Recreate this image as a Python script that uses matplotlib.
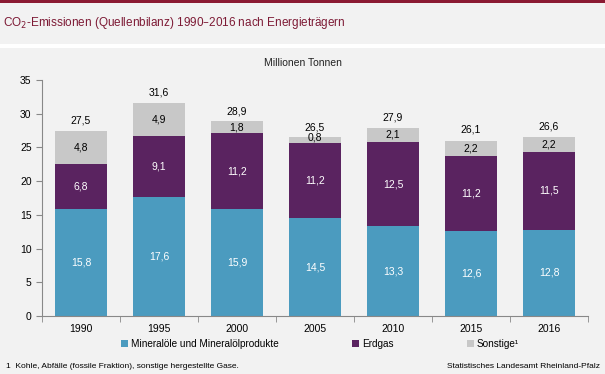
import matplotlib.pyplot as plt
import numpy as np

years = ['1990', '1995', '2000', '2005', '2010', '2015', '2016']
mineraloel = [15.8, 17.6, 15.9, 14.5, 13.3, 12.6, 12.8]
erdgas = [6.8, 9.1, 11.2, 11.2, 12.5, 11.2, 11.5]
sonstige = [4.8, 4.9, 1.8, 0.8, 2.1, 2.2, 2.2]
totals = [27.5, 31.6, 28.9, 26.5, 27.9, 26.1, 26.6]

c_min = '#4b9bbf'
c_erd = '#5a2360'
c_son = '#c8c8c8'
bg = '#f2f2f2'
title_col = '#7d1a35'


def fmt(v):
    return f'{v:.1f}'.replace('.', ',')


plt.rcParams['font.family'] = ['Liberation Sans', 'DejaVu Sans']

fig = plt.figure(figsize=(6.05, 3.74), dpi=100, facecolor=bg)

# top red line and white separator strip
fig.add_artist(plt.Rectangle((0, 1 - 2.5 / 374), 1, 2.5 / 374, transform=fig.transFigure,
                             color='#8b1a33', lw=0))
fig.add_artist(plt.Rectangle((0, 1 - 48 / 374), 1, 4 / 374, transform=fig.transFigure,
                             color='white', lw=0))

fig.text(3 / 605, 1 - 23 / 374, 'CO$_2$-Emissionen (Quellenbilanz) 1990–2016 nach Energieträgern',
         color=title_col, fontsize=8.5, va='center', ha='left')
fig.text(303 / 605, 1 - 63 / 374, 'Millionen Tonnen', fontsize=7.5, va='center', ha='center',
         color='#222222')

ax = fig.add_axes([42 / 605, 1 - 316 / 374, (588 - 42) / 605, (316 - 80) / 374])
ax.set_facecolor(bg)

x = np.arange(len(years))
w = 0.66
b1 = np.array(mineraloel)
b2 = b1 + np.array(erdgas)
ax.bar(x, mineraloel, w, color=c_min, label='Mineralöle und Mineralölprodukte')
ax.bar(x, erdgas, w, bottom=b1, color=c_erd, label='Erdgas')
ax.bar(x, sonstige, w, bottom=b2, color=c_son, label='Sonstige¹')

for i in range(len(years)):
    ax.text(x[i], mineraloel[i] / 2, fmt(mineraloel[i]), ha='center', va='center',
            color='white', fontsize=7.5)
    ax.text(x[i], b1[i] + erdgas[i] / 2, fmt(erdgas[i]), ha='center', va='center',
            color='white', fontsize=7.5)
    ax.text(x[i], b2[i] + sonstige[i] / 2 + (0.3 if sonstige[i] < 1 else 0), fmt(sonstige[i]),
            ha='center', va='center', color='black', fontsize=7.5)
    ax.text(x[i], totals[i] + 1.5, fmt(totals[i]), ha='center', va='center',
            color='black', fontsize=7.5)

ax.set_xlim(-0.5, len(years) - 0.5)
ax.set_ylim(0, 35)
ax.set_yticks(range(0, 36, 5))
ax.set_xticks(x)
ax.set_xticklabels(years)
ax.set_xticks(np.arange(-0.5, len(years), 1), minor=True)
ax.tick_params(axis='x', which='major', length=0, labelsize=7.5, pad=6)
ax.tick_params(axis='x', which='minor', length=4, color='#888888', direction='out')
ax.tick_params(axis='y', length=4, color='#888888', labelsize=7.5, direction='out')
for s in ['top', 'right']:
    ax.spines[s].set_visible(False)
for s in ['left', 'bottom']:
    ax.spines[s].set_color('#888888')

fig.legend(loc='center', bbox_to_anchor=(320 / 605, 1 - 344 / 374), ncol=3, frameon=False,
           fontsize=7.2, handlelength=0.7, handleheight=0.7, handletextpad=0.3,
           columnspacing=7.3)

fig.text(6 / 605, 1 - 366 / 374, '1  Kohle, Abfälle (fossile Fraktion), sonstige hergestellte Gase.',
         fontsize=6, va='center', ha='left')
fig.text(600 / 605, 1 - 366 / 374, 'Statistisches Landesamt Rheinland-Pfalz',
         fontsize=6, va='center', ha='right')

fig.savefig('out.png', dpi=100, facecolor=bg)
